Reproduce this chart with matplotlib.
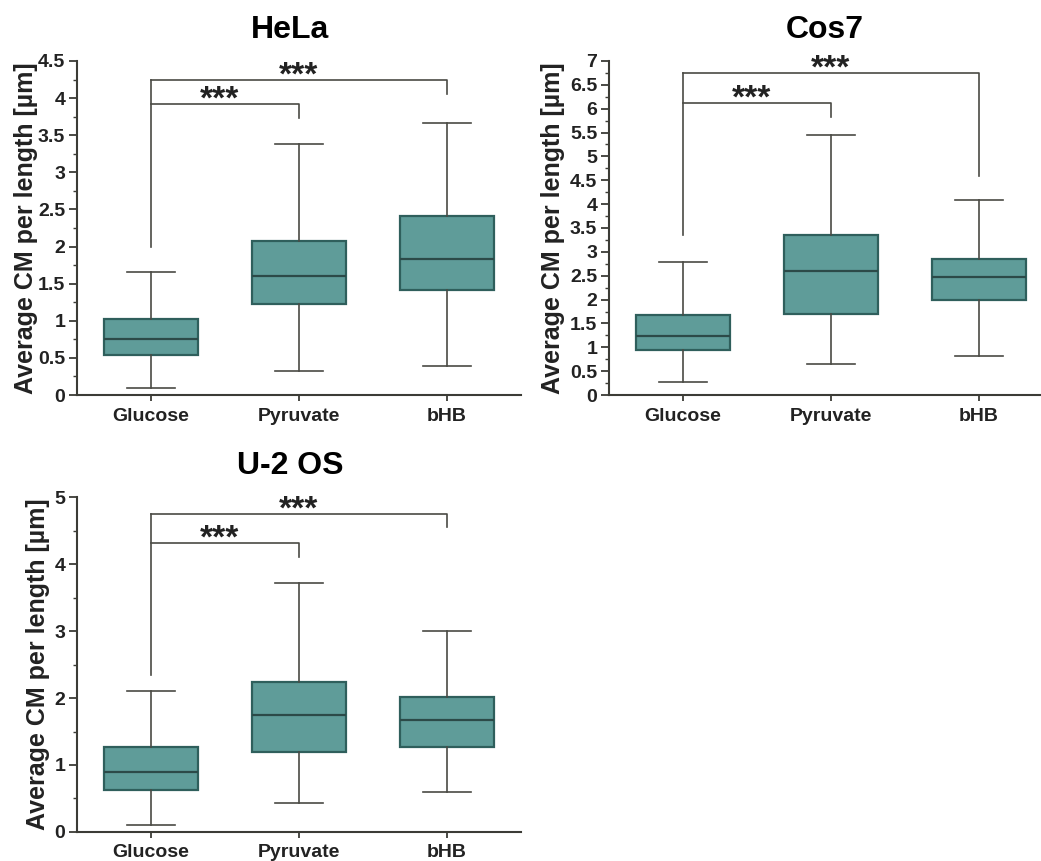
import matplotlib
matplotlib.use("Agg")
import matplotlib.pyplot as plt
from matplotlib.ticker import MultipleLocator

plt.rcParams['font.family'] = ['Liberation Sans', 'DejaVu Sans']
plt.rcParams['font.weight'] = 'bold'

categories = ['Glucose', 'Pyruvate', 'bHB']

# box stats: lower whisker, Q1, median, Q3, upper whisker
hela_low = [0.10, 0.32, 0.39]
hela_q1 = [0.54, 1.22, 1.41]
hela_med = [0.76, 1.60, 1.83]
hela_q3 = [1.02, 2.07, 2.41]
hela_high = [1.66, 3.38, 3.66]

cos7_low = [0.27, 0.66, 0.82]
cos7_q1 = [0.95, 1.70, 2.00]
cos7_med = [1.24, 2.60, 2.47]
cos7_q3 = [1.67, 3.36, 2.86]
cos7_high = [2.78, 5.45, 4.08]

u2os_low = [0.10, 0.43, 0.60]
u2os_q1 = [0.63, 1.19, 1.27]
u2os_med = [0.90, 1.75, 1.67]
u2os_q3 = [1.27, 2.24, 2.01]
u2os_high = [2.10, 3.71, 3.00]

# significance brackets: left leg bottom, inner bar, inner right leg end, outer bar, outer right leg end
hela_sig = [2.00, 3.92, 3.73, 4.24, 4.06]
cos7_sig = [3.35, 6.12, 5.83, 6.75, 4.59]
u2os_sig = [2.34, 4.31, 4.10, 4.75, 4.55]
sig_label = '***'

fill = '#5f9c99'
edge = '#2f5f5c'
line = '#4a4a44'


def panel(ax, title, low, q1, med, q3, high, sig, ymax, major, minor, ylab_x):
    stats = []
    for i in range(len(categories)):
        stats.append(dict(whislo=low[i], q1=q1[i], med=med[i], q3=q3[i],
                          whishi=high[i], fliers=[], label=categories[i]))
    ax.bxp(stats, positions=[1, 2, 3], widths=0.64, capwidths=0.32,
           patch_artist=True, showfliers=False,
           boxprops=dict(facecolor=fill, edgecolor=edge, linewidth=1.6),
           medianprops=dict(color='#2c4a48', linewidth=1.6),
           whiskerprops=dict(color=line, linewidth=1.2),
           capprops=dict(color=line, linewidth=1.2))

    # brackets
    ax.plot([1, 1], [sig[0], sig[3]], color=line, lw=1.2)
    ax.plot([1, 2, 2], [sig[1], sig[1], sig[2]], color=line, lw=1.2)
    ax.plot([1, 3, 3], [sig[3], sig[3], sig[4]], color=line, lw=1.2)
    ax.annotate(sig_label, xy=(1.46, sig[1]), xytext=(0, -3.2),
                textcoords='offset points', ha='center', va='baseline',
                fontsize=24, color='#222222')
    ax.annotate(sig_label, xy=(2.0, sig[3]), xytext=(0, -3.2),
                textcoords='offset points', ha='center', va='baseline',
                fontsize=24, color='#222222')

    ax.set_xlim(0.5, 3.5)
    ax.set_ylim(0, ymax)
    ax.yaxis.set_major_locator(MultipleLocator(major))
    ax.yaxis.set_minor_locator(MultipleLocator(minor))
    ax.yaxis.set_major_formatter(matplotlib.ticker.FormatStrFormatter('%g'))
    for s in ['top', 'right']:
        ax.spines[s].set_visible(False)
    for s in ['left', 'bottom']:
        ax.spines[s].set_linewidth(1.5)
        ax.spines[s].set_color('#3c3c36')
    ax.tick_params(axis='y', which='major', length=6, width=1.3, pad=2.5,
                   labelsize=14, colors='#3c3c36', labelcolor='#222222')
    ax.tick_params(axis='y', which='minor', length=3, width=1.0, colors='#3c3c36')
    ax.tick_params(axis='x', length=4, width=1.3, pad=5, labelsize=14,
                   colors='#3c3c36', labelcolor='#222222')
    ax.set_xticks([1, 2, 3])
    ax.set_xticklabels(categories)
    ax.set_ylabel('Average CM per length [µm]', fontsize=18, fontweight='bold',
                  color='#222222')
    ax.yaxis.set_label_coords(ylab_x, 0.5)
    ax.patch.set_alpha(0)


fig = plt.figure(figsize=(10.41, 8.61), dpi=100)

ax1 = fig.add_axes([0.074, 0.5412, 0.4265, 0.388])
panel(ax1, 'HeLa', hela_low, hela_q1, hela_med, hela_q3, hela_high, hela_sig,
      4.5, 0.5, 0.25, -0.088)

ax2 = fig.add_axes([0.585, 0.5412, 0.4265, 0.388])
panel(ax2, 'Cos7', cos7_low, cos7_q1, cos7_med, cos7_q3, cos7_high, cos7_sig,
      7, 0.5, 0.25, -0.099)

ax3 = fig.add_axes([0.074, 0.0337, 0.4265, 0.389])
panel(ax3, 'U-2 OS', u2os_low, u2os_q1, u2os_med, u2os_q3, u2os_high, u2os_sig,
      5, 1, 0.5, -0.061)

fig.text(290 / 1041, 1 - 30 / 861, 'HeLa', ha='center', va='center', fontsize=23)
fig.text(825 / 1041, 1 - 30 / 861, 'Cos7', ha='center', va='center', fontsize=23)
fig.text(290 / 1041, 1 - 466 / 861, 'U-2 OS', ha='center', va='center', fontsize=23)

fig.savefig('out.png', dpi=100, facecolor='white')
